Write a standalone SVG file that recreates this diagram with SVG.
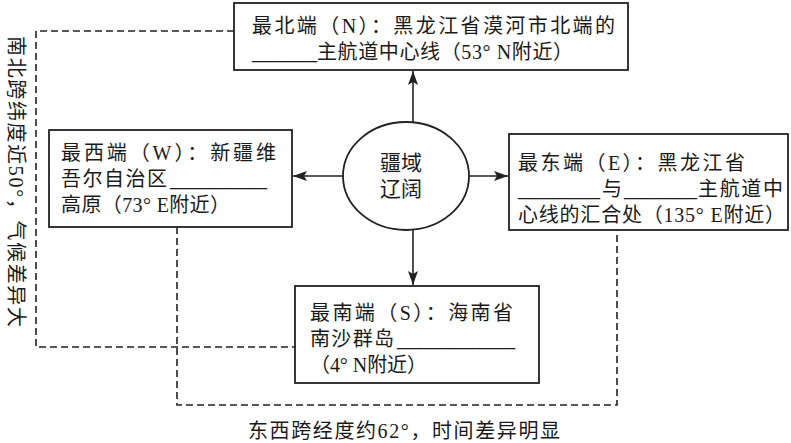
<svg xmlns="http://www.w3.org/2000/svg" width="791" height="443" viewBox="0 0 791 443">
<defs>
<style>
.box{fill:#fff;stroke:#222;stroke-width:1.8}
.ell{fill:#fff;stroke:#222;stroke-width:1.8}
.t{font-family:"Liberation Serif","Noto Sans CJK SC",serif;font-size:20px;fill:#1a1a1a}
.c{font-family:"Liberation Serif","Noto Sans CJK SC",serif;font-size:21px;fill:#1a1a1a}
.arr{stroke:#222;stroke-width:1.6;fill:none}
.dash{stroke:#222;stroke-width:1.6;fill:none;stroke-dasharray:7 4}
</style>
<marker id="ah" markerUnits="userSpaceOnUse" markerWidth="15" markerHeight="11" refX="14" refY="5" orient="auto">
<path d="M0,0 L14,5 L0,10 L3,5 Z" fill="#222"/>
</marker>
</defs>
<rect width="791" height="443" fill="#fff"/>

<g id="connectors">
<path class="dash" d="M234,31 H36 V347 H295"/>
<path class="dash" d="M177,227 V405 H617 V230"/>
<line class="arr" x1="413" y1="122" x2="413" y2="71" marker-end="url(#ah)"/>
<line class="arr" x1="343" y1="176" x2="293" y2="176" marker-end="url(#ah)"/>
<line class="arr" x1="469" y1="176" x2="508" y2="176" marker-end="url(#ah)"/>
<line class="arr" x1="413" y1="230" x2="413" y2="285" marker-end="url(#ah)"/>
</g>

<g id="center">
<ellipse class="ell" cx="406" cy="176" rx="63" ry="54"/>
<text class="c" x="401" y="170" text-anchor="middle">疆域</text>
<text class="c" x="401" y="196" text-anchor="middle">辽阔</text>
</g>

<g id="north">
<rect class="box" x="234" y="3" width="394" height="67"/>
<text class="t"><tspan x="252" y="33" textLength="363" lengthAdjust="spacing">最北端（N）：黑龙江省漠河市北端的</tspan></text>
<text class="t"><tspan x="252" y="59" textLength="65" lengthAdjust="spacingAndGlyphs">______</tspan><tspan x="317" y="59" textLength="256" lengthAdjust="spacing">主航道中心线（53° N附近）</tspan></text>
</g>

<g id="west">
<rect class="box" x="49" y="130" width="243" height="97"/>
<text class="t"><tspan x="61" y="160" textLength="215" lengthAdjust="spacing">最西端（W）：新疆维</tspan></text>
<text class="t"><tspan x="61" y="186" textLength="106" lengthAdjust="spacing">吾尔自治区</tspan><tspan x="170" y="186" textLength="97" lengthAdjust="spacingAndGlyphs">_________</tspan></text>
<text class="t"><tspan x="61" y="212" textLength="169" lengthAdjust="spacing">高原（73° E附近）</tspan></text>
</g>

<g id="east">
<rect class="box" x="509" y="134" width="279" height="96"/>
<text class="t"><tspan x="518" y="170" textLength="227" lengthAdjust="spacing">最东端（E）：黑龙江省</tspan></text>
<text class="t"><tspan x="518" y="196" textLength="82" lengthAdjust="spacingAndGlyphs">________</tspan><tspan x="602" y="196">与</tspan><tspan x="624" y="196" textLength="73" lengthAdjust="spacingAndGlyphs">_______</tspan><tspan x="698" y="196" textLength="85" lengthAdjust="spacing">主航道中</tspan></text>
<text class="t"><tspan x="518" y="222" textLength="267" lengthAdjust="spacing">心线的汇合处（135° E附近）</tspan></text>
</g>

<g id="south">
<rect class="box" x="295" y="286" width="244" height="97"/>
<text class="t"><tspan x="310" y="320" textLength="203" lengthAdjust="spacing">最南端（S）：海南省</tspan></text>
<text class="t"><tspan x="310" y="346" textLength="84" lengthAdjust="spacing">南沙群岛</tspan><tspan x="397" y="346" textLength="118" lengthAdjust="spacingAndGlyphs">____________</tspan></text>
<text class="t"><tspan x="310" y="372" textLength="117" lengthAdjust="spacing">（4° N附近）</tspan></text>
</g>

<g id="labels">
<text class="t" transform="translate(8.5,36) rotate(90)" x="0" y="0" textLength="291" lengthAdjust="spacing">南北跨纬度近50°，气候差异大</text>
<text class="t" x="248" y="438" textLength="312" lengthAdjust="spacing">东西跨经度约62°，时间差异明显</text>
</g>
</svg>
